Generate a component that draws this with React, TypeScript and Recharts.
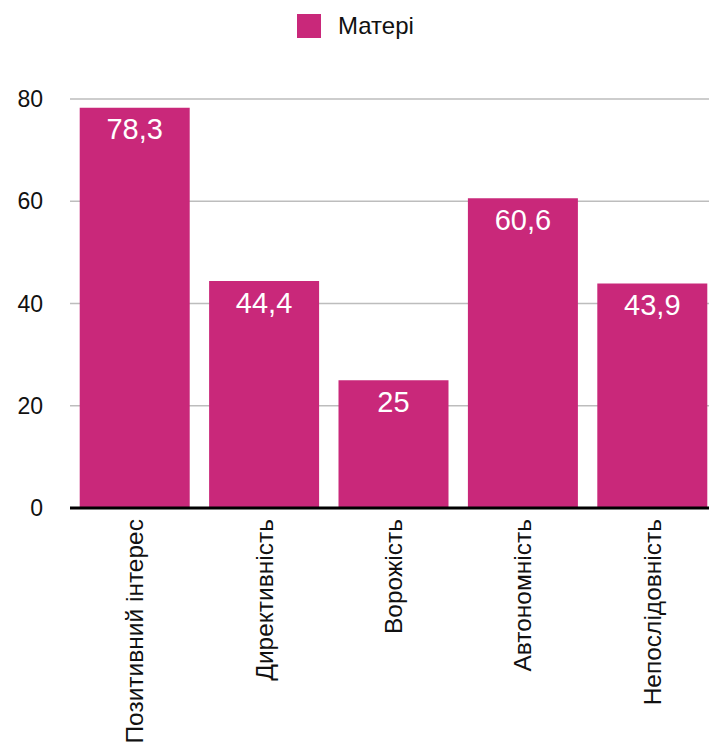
import { BarChart, Bar, XAxis, YAxis, CartesianGrid, LabelList } from 'recharts'

const categories = ['Позитивний інтерес', 'Директивність', 'Ворожість', 'Автономність', 'Непослідовність']
const motherValues = [78.3, 44.4, 25, 60.6, 43.9]
const yTicks = [0, 20, 40, 60, 80]
const seriesName = 'Матері'

const BAR_COLOR = '#C9287A'
const FONT = '"Liberation Sans", Arial, sans-serif'

const data = categories.map((name, i) => ({ name, value: motherValues[i] }))

const formatValue = (v: number) => String(v).replace('.', ',')

function XTick(props: any) {
  const { x, y, payload } = props
  return (
    <text
      transform={`translate(${x},${y}) rotate(-90)`}
      textAnchor="end"
      dy="0.35em"
      fontSize={24.5}
      fill="#111"
      fontFamily={FONT}
    >
      {payload.value}
    </text>
  )
}

export default function App() {
  return (
    <div style={{ position: 'absolute', left: 0, top: 0, width: 709, height: 749, overflow: 'hidden', background: '#fff', fontFamily: FONT }}>
      <div style={{ position: 'absolute', top: 12, left: 297, display: 'flex', alignItems: 'center' }}>
        <div style={{ width: 24, height: 24, background: BAR_COLOR }} />
        <span style={{ marginLeft: 17, fontSize: 24, color: '#111' }}>{seriesName}</span>
      </div>
      <BarChart
        width={718}
        height={749}
        data={data}
        margin={{ top: 99, right: 1, left: 0, bottom: 0 }}
        barCategoryGap={9.7}
      >
        <CartesianGrid vertical={false} stroke="#bdbdbd" strokeWidth={1.5} />
        <XAxis
          dataKey="name"
          interval={0}
          height={241}
          tick={<XTick />}
          tickLine={false}
          tickSize={0}
          tickMargin={11}
          axisLine={{ stroke: '#000', strokeWidth: 3 }}
        />
        <YAxis
          domain={[0, 80]}
          ticks={yTicks}
          width={70}
          tickLine={false}
          axisLine={false}
          tickSize={0}
          tickMargin={27}
          tick={{ fontSize: 23, fill: '#111', fontFamily: FONT }}
        />
        <Bar dataKey="value" name={seriesName} fill={BAR_COLOR} isAnimationActive={false}>
          <LabelList
            dataKey="value"
            position="insideTop"
            offset={11}
            formatter={(v: any) => formatValue(v)}
            fill="#fff"
            fontSize={29}
            fontFamily={FONT}
          />
        </Bar>
      </BarChart>
    </div>
  )
}
